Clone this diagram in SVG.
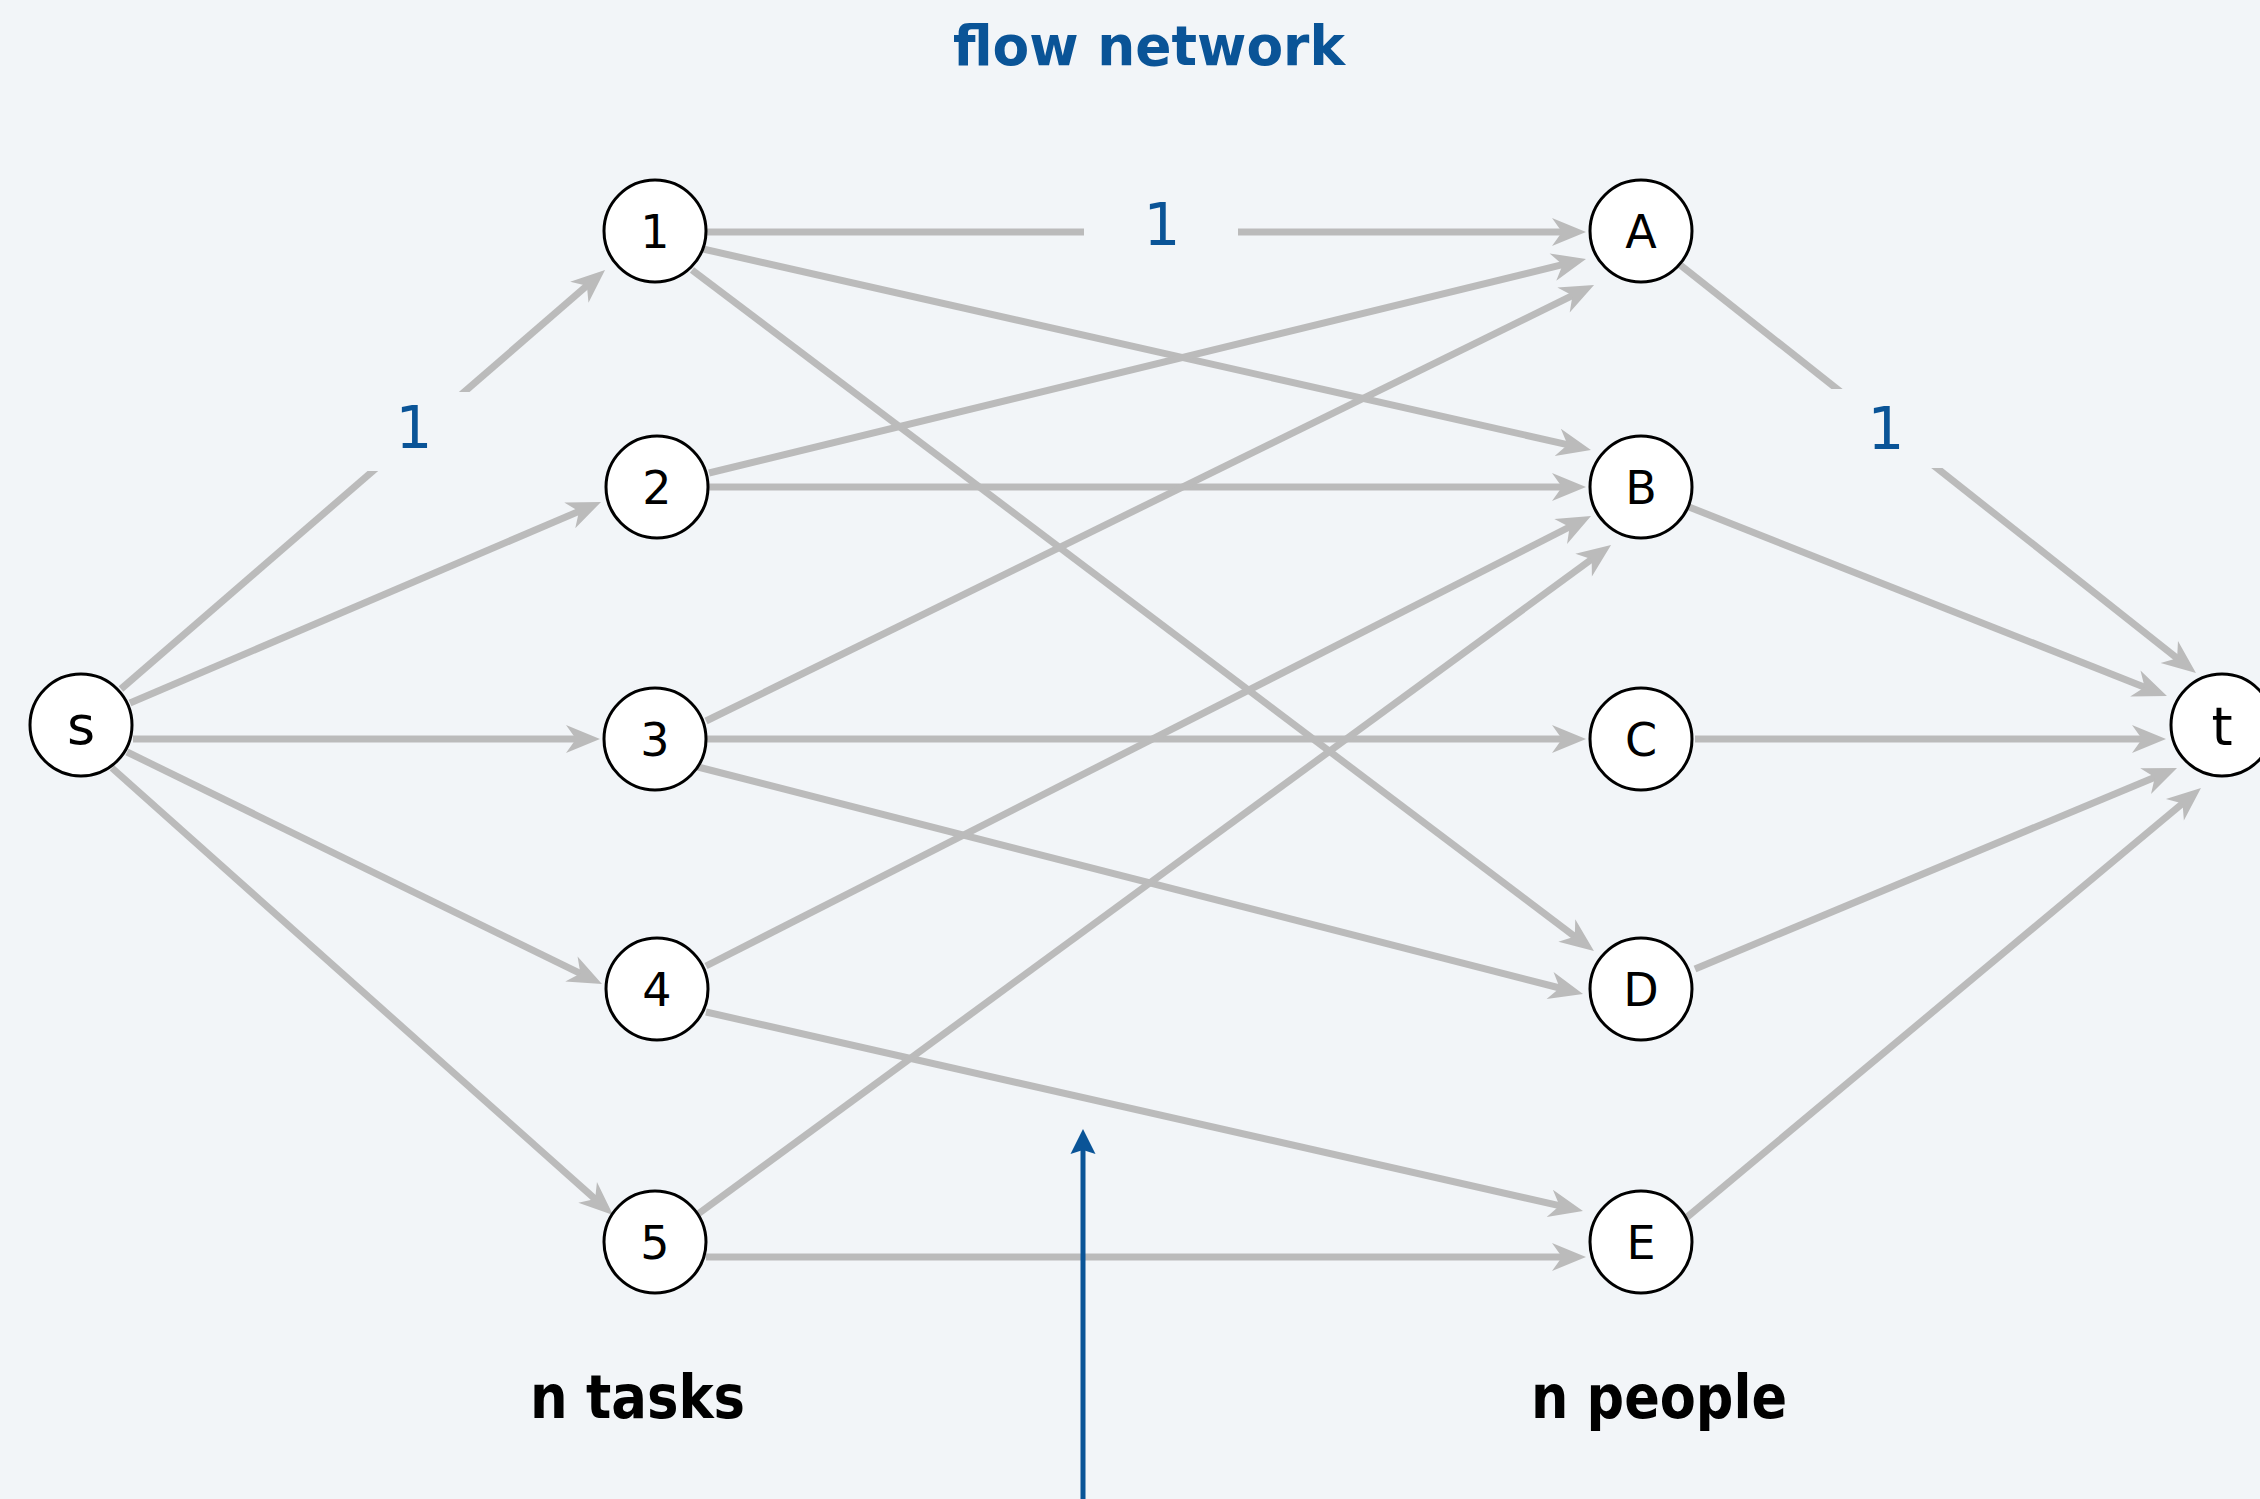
<svg xmlns="http://www.w3.org/2000/svg" width="2260" height="1499" viewBox="0 0 2260 1499">
<style>
.edge{stroke:#bbbbbb;stroke-width:7;fill:none;marker-end:url(#ah)}
.node circle{fill:#ffffff;stroke:#000000;stroke-width:3}
.node text{font-family:"DejaVu Sans",sans-serif;font-size:46px;fill:#000;text-anchor:middle}
.cap{font-family:"DejaVu Sans",sans-serif;font-size:58px;fill:#0a5497;text-anchor:middle}
.halo{fill:#f2f5f8}
.side{font-family:"DejaVu Sans Condensed","DejaVu Sans",sans-serif;font-weight:bold;font-size:60px;fill:#000}
</style>
<defs>
<marker id="ah" markerUnits="userSpaceOnUse" markerWidth="80" markerHeight="80" viewBox="-40 -40 80 80" refX="0" refY="0" orient="auto" overflow="visible">
<path d="M22,0 L-12,-14 L-2,0 L-12,14 Z" fill="#bbbbbb"/>
</marker>
<marker id="bh" markerUnits="userSpaceOnUse" markerWidth="80" markerHeight="80" viewBox="-40 -40 80 80" refX="0" refY="0" orient="auto" overflow="visible">
<path d="M18,0 L-7,-12.5 L-3,0 L-7,12.5 Z" fill="#0a5497"/>
</marker>
</defs>
<rect x="0" y="0" width="2260" height="1499" fill="#f2f5f8"/>
<text x="1149" y="65" font-family="DejaVu Sans, sans-serif" font-weight="bold" font-size="56" fill="#0a5497" text-anchor="middle" textLength="392" lengthAdjust="spacingAndGlyphs">flow network</text>
<g id="connectors">
<line class="edge" x1="121" y1="689" x2="588.4" y2="284.4"/>
<line class="edge" x1="130" y1="703" x2="580.8" y2="510.6"/>
<line class="edge" x1="133" y1="739" x2="578" y2="739"/>
<line class="edge" x1="127" y1="752" x2="582.2" y2="974.3"/>
<line class="edge" x1="112" y1="768" x2="596.6" y2="1200.4"/>
<line class="edge" x1="706" y1="232" x2="1564" y2="232"/>
<line class="edge" x1="703" y1="249" x2="1569.5" y2="445.1"/>
<line class="edge" x1="692" y1="270" x2="1576.4" y2="937.7"/>
<line class="edge" x1="709" y1="473" x2="1564.6" y2="264.2"/>
<line class="edge" x1="709" y1="487" x2="1564" y2="487"/>
<line class="edge" x1="706" y1="721" x2="1574.3" y2="294.7"/>
<line class="edge" x1="706" y1="739" x2="1564" y2="739"/>
<line class="edge" x1="698" y1="767" x2="1561.7" y2="988.5"/>
<line class="edge" x1="706" y1="966" x2="1571.4" y2="526"/>
<line class="edge" x1="706" y1="1012" x2="1561.5" y2="1206.1"/>
<line class="edge" x1="698" y1="1214" x2="1593.3" y2="558"/>
<line class="edge" x1="706" y1="1257" x2="1564" y2="1257"/>
<line class="edge" x1="1679" y1="264" x2="2178.7" y2="659.4"/>
<line class="edge" x1="1689" y1="507" x2="2146.5" y2="687.9"/>
<line class="edge" x1="1695" y1="739" x2="2144" y2="739"/>
<line class="edge" x1="1695" y1="969" x2="2156.7" y2="776.5"/>
<line class="edge" x1="1686" y1="1218" x2="2184.1" y2="802.1"/>
<line x1="1083" y1="1510" x2="1083" y2="1147" stroke="#0a5497" stroke-width="5" marker-end="url(#bh)"/>
</g>
<g id="capacity-labels">
<rect class="halo" x="337" y="392" width="154" height="79"/>
<text class="cap" x="414" y="448">1</text>
<rect class="halo" x="1084" y="190" width="154" height="79"/>
<text class="cap" x="1162" y="245">1</text>
<rect class="halo" x="1809" y="389" width="154" height="79"/>
<text class="cap" x="1886" y="449">1</text>
</g>
<g id="node-s" class="node"><circle cx="81" cy="725" r="51"/><text x="81" y="744" style="font-size:54px">s</text></g>
<g id="node-1" class="node"><circle cx="655" cy="231" r="51"/><text x="655" y="248">1</text></g>
<g id="node-2" class="node"><circle cx="657" cy="487" r="51"/><text x="657" y="504">2</text></g>
<g id="node-3" class="node"><circle cx="655" cy="739" r="51"/><text x="655" y="756">3</text></g>
<g id="node-4" class="node"><circle cx="657" cy="989" r="51"/><text x="657" y="1006">4</text></g>
<g id="node-5" class="node"><circle cx="655" cy="1242" r="51"/><text x="655" y="1259">5</text></g>
<g id="node-A" class="node"><circle cx="1641" cy="231" r="51"/><text x="1641" y="248">A</text></g>
<g id="node-B" class="node"><circle cx="1641" cy="487" r="51"/><text x="1641" y="504">B</text></g>
<g id="node-C" class="node"><circle cx="1641" cy="739" r="51"/><text x="1641" y="756">C</text></g>
<g id="node-D" class="node"><circle cx="1641" cy="989" r="51"/><text x="1641" y="1006">D</text></g>
<g id="node-E" class="node"><circle cx="1641" cy="1242" r="51"/><text x="1641" y="1259">E</text></g>
<g id="node-t" class="node"><circle cx="2222" cy="725" r="51"/><text x="2222" y="745" style="font-size:54px">t</text></g>
<text class="side" x="530" y="1418" textLength="215" lengthAdjust="spacingAndGlyphs">n tasks</text>
<text class="side" x="1531" y="1418" textLength="256" lengthAdjust="spacingAndGlyphs">n people</text>
</svg>
